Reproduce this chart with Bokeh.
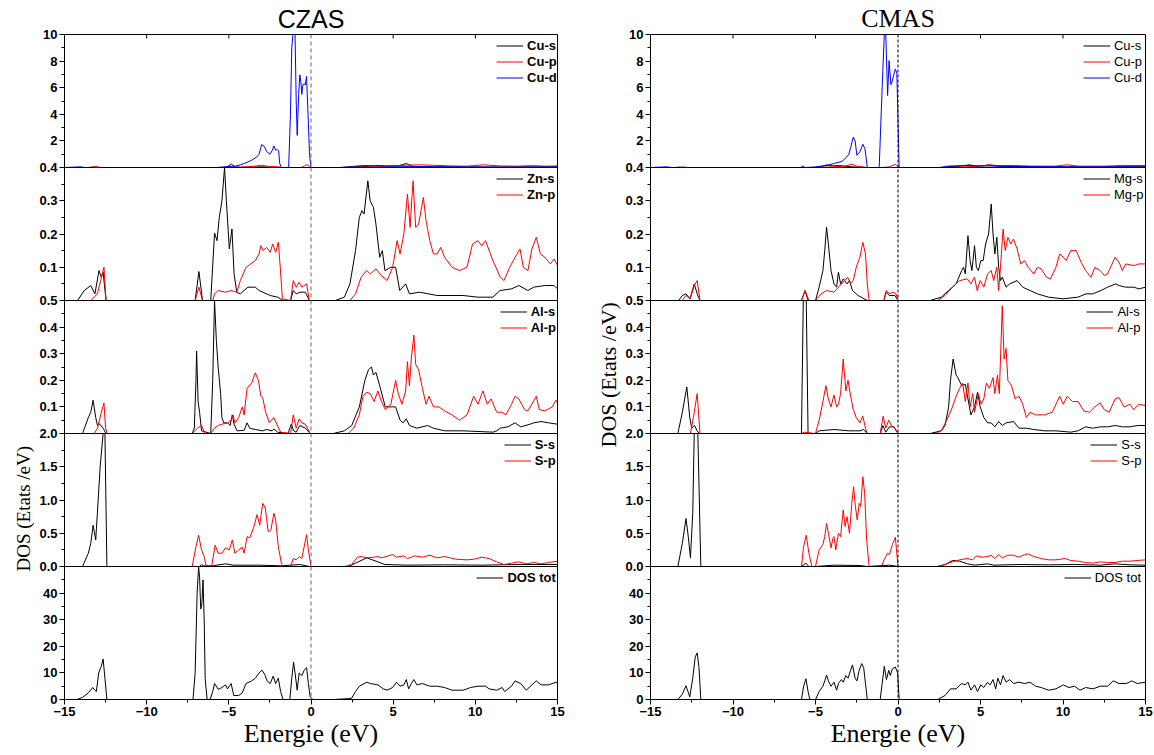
import math
from bokeh.plotting import figure
from bokeh.models import Range1d, FixedTicker, Span, Title, Legend, LegendItem
from bokeh.layouts import row
from bokeh.embed import file_html
from bokeh.resources import INLINE

# ---------------------------------------------------------------- data
# Energy axis (eV)
x_major = [-15, -10, -5, 0, 5, 10, 15]
x_minor = [-12.5, -7.5, -2.5, 2.5, 7.5, 12.5]

# Panel scales, listed from top panel to bottom panel
panel_limits = [10, 0.4, 0.5, 2.0, 50]
panel_major = [[2, 4, 6, 8], [0.1, 0.2, 0.3], [0.1, 0.2, 0.3, 0.4], [0.5, 1.0, 1.5], [10, 20, 30, 40]]
panel_minor = [[1, 3, 5, 7, 9], [0.05, 0.15, 0.25, 0.35], [0.05, 0.15, 0.25, 0.35, 0.45],
               [0.25, 0.75, 1.25, 1.75], [5, 15, 25, 35, 45]]
panel_fmt = ["{:g}", "{:.1f}", "{:.1f}", "{:.1f}", "{:g}"]
edge_labels = ["10", "0.4", "0.5", "2.0", "0.0", "0"]   # panel edges, top to bottom

# ---- CZAS partial DOS, (energy, states/eV)
czas_cu_s = [(-15, 0), (-13.6, 0), (-13.3, 0.03), (-13.0, 0), (-5.4, 0), (-5.1, 0.06), (-4.85, 0.25), (-4.6, 0.05),
             (-4.3, 0.02), (-3.0, 0.05), (-1.8, 0), (1.8, 0), (2.7, 0.05), (3.5, 0.08), (4.1, 0.15), (4.6, 0.1),
             (5.3, 0.12), (5.8, 0.3), (6.2, 0.08), (7.5, 0.05), (9, 0.04), (11, 0.03), (13, 0.04), (15, 0.03)]
czas_cu_p = [(-15, 0), (-13.4, 0), (-13.1, 0.08), (-12.8, 0), (-4.6, 0), (-4.0, 0.04), (-3.4, 0.1), (-3.0, 0.17),
             (-2.6, 0.08), (-2.0, 0.05), (-1.8, 0), (-0.6, 0), (-0.4, 0.12), (-0.27, 0.22), (-0.1, 0.1), (0, 0),
             (2.4, 0), (3.2, 0.04), (4.2, 0.06), (5.0, 0.12), (5.8, 0.18), (6.6, 0.2), (7.4, 0.17), (8.5, 0.12),
             (9.5, 0.1), (10.5, 0.2), (11.5, 0.12), (12.5, 0.1), (13.5, 0.14), (14.3, 0.1), (15, 0.12)]
czas_cu_d = [(-15, 0), (-14, 0.05), (-13.8, 0), (-5.8, 0), (-5.2, 0.05), (-4.6, 0.1), (-4.3, 0.2), (-4.07, 0.3),
             (-3.6, 0.55), (-3.3, 0.8), (-3.16, 1.0), (-3.0, 1.72), (-2.85, 1.6), (-2.7, 1.2), (-2.5, 1.0),
             (-2.35, 1.3), (-2.26, 1.62), (-2.15, 1.3), (-2.05, 1.35), (-1.97, 1.25), (-1.9, 0.3), (-1.8, 0),
             (-1.36, 0), (-1.25, 4.0), (-1.17, 9.0), (-1.1, 10), (-0.97, 10), (-0.9, 5), (-0.84, 2.42),
             (-0.75, 5.5), (-0.68, 6.96), (-0.62, 6.5), (-0.56, 5.5), (-0.5, 6.2), (-0.42, 6.3), (-0.35, 6.2),
             (-0.27, 6.85), (-0.18, 4.0), (-0.09, 1.0), (0, 0), (1.8, 0), (2.7, 0.1), (3.2, 0.15), (4.0, 0.12),
             (5.0, 0.1), (6.0, 0.08), (8, 0.05), (10, 0.04), (12, 0.03), (15, 0.05)]
czas_zn_s = [(-15, 0), (-14.2, 0), (-13.8, 0.03), (-13.4, 0.045), (-13.15, 0.02), (-12.9, 0.09), (-12.76, 0.07),
             (-12.65, 0.085), (-12.47, 0), (-7.05, 0), (-6.82, 0.087), (-6.6, 0), (-6.1, 0), (-5.87, 0.203),
             (-5.72, 0.18), (-5.58, 0.25), (-5.42, 0.3), (-5.26, 0.4), (-5.15, 0.3), (-4.97, 0.155), (-4.81, 0.215),
             (-4.68, 0.08), (-4.52, 0.025), (-4.3, 0.02), (-4.07, 0.03), (-3.84, 0.04), (-3.39, 0.04),
             (-3.16, 0.03), (-2.48, 0.015), (-2.03, 0.01), (-1.7, 0), (-1.24, 0), (-1.08, 0.03), (-0.9, 0.02),
             (-0.68, 0.025), (-0.34, 0.025), (-0.1, 0), (1.47, 0), (2.03, 0.01), (2.37, 0.05), (2.71, 0.15),
             (2.94, 0.25), (3.1, 0.27), (3.23, 0.26), (3.46, 0.36), (3.6, 0.3), (3.8, 0.28), (3.95, 0.23),
             (4.18, 0.13), (4.34, 0.15), (4.5, 0.09), (4.86, 0.1), (5.15, 0.1), (5.4, 0.03), (5.76, 0.05),
             (5.99, 0.02), (6.6, 0.025), (7.68, 0.015), (9.26, 0.015), (10.16, 0.01), (11.07, 0.01), (11.5, 0.03),
             (12.2, 0.035), (12.65, 0.045), (13.2, 0.03), (13.55, 0.04), (14.23, 0.045), (14.8, 0.045), (15, 0.035)]
czas_zn_p = [(-15, 0), (-13.4, 0), (-13.0, 0.02), (-12.8, 0.06), (-12.6, 0.1), (-12.47, 0), (-7.05, 0),
             (-6.82, 0.04), (-6.6, 0), (-5.98, 0), (-5.87, 0.02), (-5.65, 0.03), (-5.2, 0.025), (-4.86, 0.03),
             (-4.52, 0.025), (-4.3, 0.06), (-3.95, 0.1), (-3.73, 0.108), (-3.39, 0.12), (-3.16, 0.14),
             (-3.05, 0.165), (-2.9, 0.15), (-2.7, 0.16), (-2.48, 0.145), (-2.33, 0.17), (-2.15, 0.145),
             (-1.99, 0.175), (-1.87, 0.1), (-1.74, 0.005), (-1.24, 0), (-1.08, 0.06), (-0.9, 0.04), (-0.72, 0.055),
             (-0.56, 0.04), (-0.27, 0.05), (-0.1, 0), (2.37, 0), (2.71, 0.02), (3.05, 0.07), (3.39, 0.09),
             (3.61, 0.08), (3.95, 0.095), (4.29, 0.075), (4.63, 0.06), (4.97, 0.1), (5.24, 0.18), (5.42, 0.14),
             (5.65, 0.2), (5.87, 0.32), (6.03, 0.22), (6.21, 0.36), (6.37, 0.22), (6.55, 0.23), (6.84, 0.31),
             (7.0, 0.24), (7.23, 0.18), (7.45, 0.14), (7.68, 0.14), (7.9, 0.16), (8.13, 0.13), (8.58, 0.1),
             (9.04, 0.09), (9.49, 0.1), (9.83, 0.17), (10.16, 0.18), (10.39, 0.165), (10.62, 0.18), (11.07, 0.12),
             (11.52, 0.07), (11.75, 0.06), (12.09, 0.1), (12.42, 0.13), (12.72, 0.155), (12.92, 0.1), (13.2, 0.09),
             (13.44, 0.155), (13.71, 0.19), (13.96, 0.14), (14.23, 0.13), (14.57, 0.11), (14.8, 0.125), (15, 0.105)]
czas_al_s = [(-15, 0), (-13.9, 0), (-13.55, 0.06), (-13.4, 0.08), (-13.26, 0.125), (-13.1, 0.06), (-12.99, 0.03),
             (-12.88, 0.037), (-12.65, 0.02), (-12.47, 0), (-7.23, 0), (-7.1, 0.02), (-7.0, 0.2), (-6.96, 0.31),
             (-6.87, 0.12), (-6.78, 0.08), (-6.66, 0.01), (-6.1, 0), (-5.98, 0.2), (-5.87, 0.5), (-5.76, 0.35),
             (-5.65, 0.25), (-5.5, 0.15), (-5.42, 0.06), (-5.31, 0.04), (-5.08, 0.04), (-4.92, 0.03), (-4.79, 0.07),
             (-4.68, 0.035), (-4.5, 0.01), (-4.07, 0.012), (-3.89, 0.04), (-3.73, 0.02), (-3.39, 0.015),
             (-2.94, 0.01), (-2.7, 0.015), (-2.37, 0.01), (-2.26, 0.017), (-2.03, 0.005), (-1.4, 0), (-1.2, 0.035),
             (-1.06, 0.01), (-0.9, 0.005), (-0.68, 0.03), (-0.34, 0.02), (-0.05, 0), (1.36, 0), (2.03, 0.01),
             (2.48, 0.03), (2.94, 0.1), (3.28, 0.2), (3.5, 0.24), (3.68, 0.25), (3.8, 0.22), (3.95, 0.23),
             (4.18, 0.18), (4.52, 0.1), (4.86, 0.1), (5.15, 0.1), (5.42, 0.05), (5.6, 0.04), (5.8, 0.055),
             (5.99, 0.03), (6.44, 0.02), (7.1, 0.03), (7.45, 0.02), (8.13, 0.01), (9.26, 0.01), (11.07, 0.005),
             (11.3, 0.01), (11.52, 0.02), (11.97, 0.025), (12.42, 0.04), (12.76, 0.025), (13.33, 0.035),
             (13.55, 0.04), (14.0, 0.045), (14.46, 0.04), (15, 0.035)]
czas_al_p = [(-15, 0), (-13.2, 0), (-12.99, 0.02), (-12.76, 0.08), (-12.6, 0.115), (-12.5, 0.02), (-12.4, 0),
             (-7.23, 0), (-6.9, 0.02), (-6.66, 0.03), (-6.45, 0), (-6.1, 0), (-5.87, 0.02), (-5.65, 0.03),
             (-5.42, 0.035), (-5.08, 0.04), (-4.86, 0.05), (-4.74, 0.07), (-4.63, 0.04), (-4.4, 0.06), (-4.18, 0.1),
             (-4.07, 0.07), (-3.89, 0.17), (-3.61, 0.19), (-3.39, 0.228), (-3.2, 0.2), (-3.05, 0.14), (-2.94, 0.135),
             (-2.76, 0.08), (-2.53, 0.04), (-2.26, 0.06), (-2.08, 0.035), (-1.85, 0.005), (-1.24, 0), (-1.08, 0.07),
             (-0.9, 0.02), (-0.72, 0.055), (-0.56, 0.04), (-0.34, 0.035), (-0.05, 0), (2.26, 0), (2.6, 0.02),
             (2.94, 0.07), (3.16, 0.14), (3.39, 0.155), (3.61, 0.15), (3.84, 0.12), (4.07, 0.16), (4.29, 0.12),
             (4.52, 0.09), (4.86, 0.11), (5.15, 0.2), (5.31, 0.15), (5.53, 0.11), (5.76, 0.16), (5.87, 0.27),
             (5.99, 0.18), (6.1, 0.28), (6.26, 0.37), (6.37, 0.26), (6.55, 0.24), (6.78, 0.17), (7.0, 0.11),
             (7.18, 0.14), (7.45, 0.1), (7.79, 0.1), (8.13, 0.085), (8.58, 0.07), (9.04, 0.05), (9.49, 0.07),
             (9.9, 0.14), (10.16, 0.11), (10.46, 0.16), (10.73, 0.11), (10.96, 0.13), (11.3, 0.08), (11.63, 0.08),
             (11.86, 0.07), (12.2, 0.11), (12.42, 0.14), (12.65, 0.13), (12.99, 0.09), (13.2, 0.085),
             (13.71, 0.14), (13.89, 0.09), (14.23, 0.085), (14.68, 0.1), (14.9, 0.125), (15, 0.115)]
czas_s_s = [(-15, 0), (-13.9, 0), (-13.55, 0.2), (-13.4, 0.35), (-13.26, 0.62), (-13.1, 0.4), (-13.0, 0.8),
            (-12.83, 1.5), (-12.65, 2.0), (-12.54, 2.0), (-12.42, 0), (-6.78, 0), (-6.66, 0.03), (-6.55, 0.01),
            (-6.0, 0.01), (-5.2, 0.04), (-4.75, 0.02), (-3.16, 0.02), (-1.8, 0.01), (-0.68, 0.03), (-0.1, 0),
            (2.26, 0), (2.71, 0.05), (3.39, 0.13), (4.07, 0.07), (4.5, 0.03), (5.87, 0.02), (8.13, 0.025),
            (10.39, 0.02), (12.65, 0.03), (15, 0.03)]
czas_s_p = [(-15, 0), (-7.23, 0), (-7.0, 0.3), (-6.84, 0.47), (-6.66, 0.25), (-6.5, 0.15), (-6.37, 0),
            (-6.05, 0), (-5.83, 0.32), (-5.65, 0.2), (-5.42, 0.2), (-5.2, 0.28), (-4.97, 0.25), (-4.79, 0.4),
            (-4.63, 0.2), (-4.4, 0.25), (-4.18, 0.29), (-4.07, 0.2), (-3.89, 0.45), (-3.73, 0.43), (-3.5, 0.58),
            (-3.28, 0.78), (-3.12, 0.62), (-2.94, 0.95), (-2.78, 0.88), (-2.6, 0.52), (-2.44, 0.55), (-2.26, 0.8),
            (-2.15, 0.7), (-1.99, 0.3), (-1.8, 0.05), (-1.7, 0), (-1.24, 0), (-1.08, 0.12), (-0.9, 0.1),
            (-0.72, 0.15), (-0.56, 0.12), (-0.27, 0.48), (-0.16, 0.25), (0, 0), (2.03, 0), (2.48, 0.03),
            (2.82, 0.14), (3.05, 0.15), (3.39, 0.13), (3.84, 0.14), (4.07, 0.15), (4.29, 0.13), (4.97, 0.18),
            (5.2, 0.14), (5.65, 0.16), (5.87, 0.12), (6.32, 0.16), (6.78, 0.14), (7.23, 0.17), (7.68, 0.13),
            (8.13, 0.15), (8.81, 0.11), (9.49, 0.1), (9.94, 0.11), (10.39, 0.14), (10.84, 0.12), (11.3, 0.07),
            (11.75, 0.03), (12.2, 0.05), (12.65, 0.07), (13.1, 0.04), (13.55, 0.06), (14.0, 0.04), (14.46, 0.06),
            (15, 0.08)]
czas_tot = [(-15, 0), (-14.23, 0), (-13.9, 0.8), (-13.55, 2.5), (-13.28, 4.5), (-13.15, 3.5), (-13.06, 3),
            (-12.92, 10), (-12.76, 12.5), (-12.65, 15.2), (-12.54, 8), (-12.42, 0), (-7.18, 0), (-7.05, 10),
            (-6.93, 40), (-6.84, 50), (-6.78, 46), (-6.71, 34), (-6.64, 36), (-6.57, 45), (-6.5, 30), (-6.44, 8),
            (-6.32, 0), (-6.14, 0), (-5.98, 3), (-5.87, 6), (-5.76, 5), (-5.65, 3.8), (-5.42, 4.5), (-5.2, 5.5),
            (-5.08, 4), (-4.86, 6), (-4.7, 1.5), (-4.4, 1.5), (-4.18, 2.5), (-3.95, 6), (-3.61, 7), (-3.39, 8),
            (-3.16, 10), (-2.98, 11), (-2.82, 9.5), (-2.67, 7), (-2.48, 6), (-2.3, 8.8), (-2.15, 6), (-1.99, 8),
            (-1.85, 3), (-1.7, 0), (-1.29, 0), (-1.17, 8), (-1.06, 14), (-0.97, 10), (-0.84, 3.5), (-0.72, 10),
            (-0.56, 9), (-0.41, 11), (-0.27, 12), (-0.16, 6), (-0.05, 1), (0.11, 0), (1.36, 0), (2.26, 0.3),
            (2.48, 0.5), (2.71, 3), (2.94, 5), (3.39, 6.5), (3.61, 6), (4.07, 5.5), (4.4, 4), (4.63, 3.5),
            (4.97, 4.5), (5.2, 6.5), (5.42, 5), (5.65, 5.5), (5.8, 7.5), (5.94, 4), (6.1, 6), (6.26, 7.5),
            (6.44, 5.5), (6.78, 6), (7.23, 5), (7.68, 5), (8.13, 4.5), (8.58, 3.5), (9.26, 3.5), (9.71, 4.5),
            (10.16, 5), (10.62, 5), (10.84, 4), (11.3, 3.5), (11.63, 4.5), (11.79, 3), (12.2, 5), (12.42, 7),
            (12.76, 6), (13.1, 3.5), (13.44, 5.5), (13.71, 7), (14.0, 5.5), (14.46, 5.5), (14.91, 6.5), (15, 6)]

# ---- CMAS partial DOS, (energy, states/eV)
cmas_cu_s = [(-15, 0), (-13.5, 0), (-13.3, 0.03), (-13.0, 0), (-5.0, 0), (-4.6, 0.1), (-4.3, 0.2), (-4.0, 0.12),
             (-3.6, 0.15), (-3.2, 0.1), (-2.8, 0.05), (-1.9, 0), (2.5, 0), (3.0, 0.05), (3.8, 0.1), (4.3, 0.2),
             (4.8, 0.1), (5.3, 0.15), (5.5, 0.2), (6.0, 0.1), (7, 0.08), (9, 0.05), (11, 0.04), (13, 0.05),
             (15, 0.05)]
cmas_cu_p = [(-15, 0), (-13.2, 0), (-13.0, 0.05), (-12.8, 0), (-5.0, 0), (-4.0, 0.05), (-3.2, 0.1), (-2.8, 0.25),
             (-2.5, 0.1), (-1.9, 0), (-0.9, 0), (-0.5, 0.05), (-0.15, 0.25), (0.05, 0), (3.0, 0), (4.0, 0.05),
             (5.0, 0.1), (5.5, 0.2), (6.0, 0.15), (7.0, 0.15), (8.0, 0.1), (9.5, 0.1), (10.2, 0.2), (11, 0.1),
             (12.5, 0.1), (13.5, 0.15), (15, 0.15)]
cmas_cu_d = [(-15, 0), (-14, 0.05), (-13.7, 0), (-5.9, 0), (-5.8, 0.1), (-5.6, 0), (-5.0, 0.05), (-4.3, 0.15),
             (-3.9, 0.3), (-3.4, 0.45), (-3.1, 0.8), (-2.98, 1.0), (-2.87, 1.5), (-2.71, 2.29), (-2.6, 2.0),
             (-2.49, 0.92), (-2.3, 1.2), (-2.13, 1.75), (-2.0, 1.4), (-1.86, 0), (-1.14, 0), (-0.96, 6.0),
             (-0.83, 10), (-0.74, 10), (-0.63, 5.41), (-0.54, 8.03), (-0.43, 6.23), (-0.35, 6.5), (-0.25, 7.0),
             (-0.16, 7.4), (-0.07, 7.1), (0.07, 0), (2.6, 0), (3.0, 0.1), (4, 0.15), (5, 0.12), (6, 0.1),
             (8, 0.08), (10, 0.05), (12, 0.05), (15, 0.05)]
cmas_mg_s = [(-15, 0), (-13.3, 0), (-13.07, 0.015), (-12.85, 0.02), (-12.6, 0.005), (-12.35, 0.05), (-12.17, 0.02),
             (-12.0, 0), (-5.85, 0), (-5.63, 0.03), (-5.45, 0), (-5.0, 0), (-4.78, 0.04), (-4.55, 0.09),
             (-4.44, 0.15), (-4.33, 0.22), (-4.22, 0.17), (-4.06, 0.09), (-3.88, 0.05), (-3.72, 0.04),
             (-3.61, 0.085), (-3.48, 0.05), (-3.32, 0.065), (-3.09, 0.05), (-2.94, 0.06), (-2.76, 0.03),
             (-2.42, 0.015), (-1.86, 0), (-0.85, 0), (-0.74, 0.025), (-0.52, 0.015), (-0.18, 0.015), (0, 0),
             (1.95, 0), (2.62, 0.01), (3.07, 0.03), (3.52, 0.05), (3.86, 0.09), (3.97, 0.1), (4.08, 0.08),
             (4.24, 0.195), (4.37, 0.12), (4.48, 0.09), (4.64, 0.165), (4.75, 0.1), (4.87, 0.09), (5.02, 0.12),
             (5.16, 0.12), (5.31, 0.17), (5.49, 0.2), (5.65, 0.29), (5.76, 0.2), (5.87, 0.14), (5.99, 0.19),
             (6.1, 0.1), (6.21, 0.06), (6.32, 0.07), (6.55, 0.04), (6.77, 0.05), (7.22, 0.06), (7.56, 0.04),
             (8.0, 0.03), (8.45, 0.02), (9.13, 0.01), (10.0, 0.005), (10.9, 0.01), (11.4, 0.02), (11.8, 0.02),
             (12.3, 0.03), (12.7, 0.04), (13.2, 0.05), (13.4, 0.045), (13.8, 0.04), (14.3, 0.04), (14.6, 0.035),
             (15, 0.04)]
cmas_mg_p = [(-15, 0), (-13.07, 0), (-12.85, 0.015), (-12.6, 0.005), (-12.35, 0.045), (-12.17, 0.06), (-12.0, 0),
             (-5.85, 0), (-5.63, 0.03), (-5.4, 0), (-5.0, 0), (-4.66, 0.02), (-4.33, 0.03), (-3.88, 0.025),
             (-3.43, 0.05), (-3.05, 0.07), (-2.87, 0.05), (-2.71, 0.06), (-2.53, 0.1), (-2.31, 0.13),
             (-2.13, 0.175), (-1.97, 0.14), (-1.86, 0.05), (-1.75, 0), (-0.85, 0), (-0.7, 0.03), (-0.52, 0.02),
             (-0.29, 0.025), (-0.11, 0.02), (0, 0), (2.4, 0), (2.85, 0.015), (3.3, 0.04), (3.74, 0.06),
             (4.2, 0.065), (4.42, 0.05), (4.64, 0.07), (4.8, 0.03), (4.98, 0.06), (5.2, 0.04), (5.43, 0.08),
             (5.65, 0.09), (5.8, 0.06), (5.99, 0.1), (6.1, 0.03), (6.21, 0.1), (6.37, 0.215), (6.5, 0.15),
             (6.66, 0.19), (6.84, 0.17), (7.0, 0.185), (7.22, 0.155), (7.44, 0.11), (7.67, 0.12), (7.89, 0.1),
             (8.23, 0.08), (8.45, 0.1), (8.68, 0.095), (9.0, 0.07), (9.24, 0.065), (9.57, 0.1), (9.8, 0.14),
             (10.02, 0.13), (10.2, 0.12), (10.47, 0.15), (10.8, 0.15), (11.1, 0.115), (11.37, 0.09), (11.7, 0.07),
             (11.93, 0.1), (12.26, 0.09), (12.5, 0.075), (12.7, 0.08), (13.16, 0.13), (13.4, 0.115), (13.6, 0.09),
             (13.8, 0.11), (14.3, 0.105), (14.6, 0.11), (15, 0.11)]
cmas_al_s = [(-15, 0), (-13.34, 0), (-13.07, 0.08), (-12.8, 0.175), (-12.62, 0.06), (-12.5, 0.02), (-12.33, 0.03),
             (-12.17, 0.01), (-12.05, 0), (-5.85, 0), (-5.74, 0.5), (-5.56, 0.5), (-5.45, 0), (-5.0, 0),
             (-4.78, 0.01), (-3.88, 0.015), (-2.98, 0.01), (-2.3, 0.01), (-2.08, 0.015), (-1.86, 0), (-1.08, 0),
             (-0.92, 0.03), (-0.74, 0.005), (-0.52, 0.025), (-0.25, 0.025), (0, 0), (1.95, 0), (2.62, 0.01),
             (2.85, 0.03), (3.07, 0.1), (3.18, 0.2), (3.34, 0.28), (3.52, 0.22), (3.63, 0.21), (3.86, 0.18),
             (4.08, 0.185), (4.24, 0.13), (4.42, 0.07), (4.64, 0.1), (4.82, 0.155), (4.98, 0.1), (5.2, 0.06),
             (5.43, 0.04), (5.65, 0.04), (5.87, 0.025), (6.1, 0.045), (6.32, 0.03), (6.55, 0.04), (7.0, 0.045),
             (7.33, 0.02), (7.78, 0.02), (8.23, 0.015), (8.9, 0.01), (9.57, 0.01), (10.47, 0.005), (10.9, 0.01),
             (11.37, 0.025), (11.8, 0.02), (12.26, 0.025), (12.7, 0.025), (13.16, 0.03), (13.6, 0.025),
             (14.06, 0.025), (14.5, 0.03), (15, 0.03)]
cmas_al_p = [(-15, 0), (-12.58, 0), (-12.4, 0.06), (-12.17, 0.15), (-12.0, 0), (-5.85, 0), (-5.67, 0.005),
             (-5.0, 0), (-4.78, 0.05), (-4.55, 0.12), (-4.37, 0.18), (-4.22, 0.13), (-4.06, 0.1), (-3.88, 0.145),
             (-3.72, 0.1), (-3.61, 0.11), (-3.48, 0.15), (-3.32, 0.28), (-3.16, 0.16), (-3.03, 0.2), (-2.87, 0.14),
             (-2.71, 0.09), (-2.53, 0.06), (-2.31, 0.04), (-2.13, 0.065), (-1.97, 0.02), (-1.86, 0), (-1.08, 0),
             (-0.9, 0.065), (-0.74, 0.02), (-0.56, 0.05), (-0.4, 0.03), (-0.18, 0.02), (0, 0), (2.29, 0),
             (2.62, 0.01), (2.96, 0.05), (3.3, 0.1), (3.52, 0.14), (3.74, 0.17), (3.92, 0.19), (4.08, 0.12),
             (4.24, 0.19), (4.37, 0.1), (4.53, 0.15), (4.64, 0.08), (4.87, 0.15), (5.04, 0.11), (5.2, 0.13),
             (5.36, 0.19), (5.54, 0.17), (5.76, 0.21), (5.87, 0.15), (6.03, 0.22), (6.14, 0.15), (6.32, 0.48),
             (6.43, 0.28), (6.55, 0.32), (6.66, 0.2), (6.88, 0.18), (7.1, 0.13), (7.33, 0.14), (7.56, 0.11),
             (7.78, 0.06), (8.0, 0.08), (8.34, 0.07), (8.9, 0.07), (9.35, 0.08), (9.8, 0.14), (10.02, 0.11),
             (10.25, 0.14), (10.58, 0.12), (10.92, 0.12), (11.26, 0.085), (11.6, 0.08), (11.93, 0.1),
             (12.26, 0.115), (12.5, 0.09), (12.8, 0.08), (13.16, 0.13), (13.4, 0.135), (13.7, 0.1), (14.06, 0.11),
             (14.28, 0.09), (14.6, 0.11), (15, 0.105)]
cmas_s_s = [(-15, 0), (-13.34, 0), (-13.07, 0.35), (-12.85, 0.72), (-12.71, 0.45), (-12.58, 0.13), (-12.44, 0.8),
            (-12.35, 2.0), (-12.13, 2.0), (-11.95, 0), (-5.85, 0), (-5.58, 0.05), (-5.4, 0), (-5.0, 0),
            (-3.88, 0.02), (-2.31, 0.015), (-1.86, 0), (-0.52, 0.02), (0, 0), (2.4, 0), (2.85, 0.03), (3.3, 0.09),
            (3.74, 0.08), (4.2, 0.04), (4.64, 0.02), (5.43, 0.04), (5.8, 0.02), (7.33, 0.03), (9.1, 0.025),
            (10.7, 0.03), (12.26, 0.02), (13.16, 0.04), (14.06, 0.025), (15, 0.02)]
cmas_s_p = [(-15, 0), (-5.85, 0), (-5.72, 0.3), (-5.56, 0.47), (-5.4, 0.2), (-5.22, 0), (-5.0, 0), (-4.78, 0.25),
            (-4.55, 0.33), (-4.44, 0.45), (-4.33, 0.65), (-4.22, 0.5), (-4.06, 0.28), (-3.95, 0.42), (-3.88, 0.45),
            (-3.77, 0.25), (-3.61, 0.5), (-3.48, 0.45), (-3.32, 0.85), (-3.2, 0.6), (-3.09, 0.75), (-2.94, 0.5),
            (-2.8, 0.95), (-2.69, 1.2), (-2.58, 0.9), (-2.47, 0.7), (-2.35, 0.95), (-2.26, 0.9), (-2.13, 1.35),
            (-2.02, 1.1), (-1.9, 0.4), (-1.75, 0), (-1.0, 0), (-0.85, 0.1), (-0.63, 0.2), (-0.52, 0.18),
            (-0.34, 0.33), (-0.16, 0.44), (0, 0), (2.4, 0), (2.85, 0.03), (3.3, 0.07), (3.74, 0.1), (4.2, 0.12),
            (4.53, 0.1), (4.75, 0.16), (5.09, 0.14), (5.43, 0.15), (5.65, 0.17), (5.87, 0.12), (6.1, 0.18),
            (6.32, 0.13), (6.66, 0.17), (7.0, 0.17), (7.33, 0.14), (7.67, 0.18), (7.89, 0.19), (8.23, 0.15),
            (8.68, 0.12), (9.13, 0.1), (9.57, 0.1), (10.13, 0.12), (10.47, 0.09), (10.92, 0.08), (11.37, 0.06),
            (11.82, 0.05), (12.26, 0.07), (12.7, 0.06), (13.16, 0.06), (13.6, 0.08), (14.06, 0.08), (14.5, 0.09),
            (15, 0.1)]
cmas_tot = [(-15, 0), (-13.34, 0), (-13.07, 2), (-12.85, 5.2), (-12.62, 1), (-12.44, 8), (-12.29, 16),
            (-12.17, 17.5), (-12.06, 12), (-11.95, 0), (-5.85, 0), (-5.72, 5), (-5.58, 7.8), (-5.45, 3),
            (-5.34, 0), (-5.0, 0), (-4.78, 3), (-4.55, 5), (-4.44, 7), (-4.33, 9.2), (-4.22, 7), (-4.06, 5),
            (-3.88, 6.5), (-3.72, 3.5), (-3.61, 6), (-3.43, 7.5), (-3.32, 6.5), (-3.16, 9), (-3.03, 8), (-2.87, 11),
            (-2.76, 13), (-2.6, 8), (-2.49, 7), (-2.35, 11), (-2.2, 13.5), (-2.08, 12), (-1.97, 6), (-1.86, 0),
            (-1.08, 0), (-0.96, 6), (-0.83, 12.5), (-0.7, 7.5), (-0.56, 11), (-0.47, 9), (-0.34, 11.5),
            (-0.16, 12.2), (-0.02, 10), (0.07, 0), (2.4, 0), (2.85, 1.5), (3.18, 4), (3.52, 4), (3.86, 6),
            (4.08, 5.5), (4.24, 6.5), (4.42, 3.5), (4.64, 5.5), (4.82, 3), (5.02, 5.5), (5.2, 4.5), (5.43, 6.5),
            (5.58, 5.5), (5.76, 7.5), (5.92, 4), (6.05, 8), (6.21, 5.5), (6.37, 9), (6.55, 6.5), (6.77, 7.5),
            (7.0, 6), (7.33, 6.5), (7.67, 6), (8.0, 6.5), (8.34, 5), (8.68, 4.5), (9.13, 3.5), (9.57, 4),
            (10.02, 5.5), (10.36, 4.5), (10.7, 5), (11.03, 3.5), (11.37, 4.5), (11.82, 4), (12.26, 5), (12.7, 5),
            (13.05, 7), (13.4, 6), (13.83, 6), (14.17, 7), (14.5, 6), (15, 6.5)]

BLACK, RED, BLUE = "#000000", "#ff0000", "#0000ff"

czas_panels = [
    [("Cu-s", BLACK, czas_cu_s), ("Cu-p", RED, czas_cu_p), ("Cu-d", BLUE, czas_cu_d)],
    [("Zn-s", BLACK, czas_zn_s), ("Zn-p", RED, czas_zn_p)],
    [("Al-s", BLACK, czas_al_s), ("Al-p", RED, czas_al_p)],
    [("S-s", BLACK, czas_s_s), ("S-p", RED, czas_s_p)],
    [("DOS tot", BLACK, czas_tot)],
]
cmas_panels = [
    [("Cu-s", BLACK, cmas_cu_s), ("Cu-p", RED, cmas_cu_p), ("Cu-d", BLUE, cmas_cu_d)],
    [("Mg-s", BLACK, cmas_mg_s), ("Mg-p", RED, cmas_mg_p)],
    [("Al-s", BLACK, cmas_al_s), ("Al-p", RED, cmas_al_p)],
    [("S-s", BLACK, cmas_s_s), ("S-p", RED, cmas_s_p)],
    [("DOS tot", BLACK, cmas_tot)],
]

# ---------------------------------------------------------------- drawing
FIG_W, FIG_H = 577, 755
TOP, BOTTOM = 34, 56
N = len(panel_limits)
SANS = "Liberation Sans"
SERIF = "Liberation Serif"
FS = 13                       # tick / legend font size, px
ROW_H, ROW_GAP = 15, 1        # legend row geometry


def y_axis_ticks():
    """Stacked-panel tick positions on the 0..N primary scale and their labels."""
    majors, minors, labels = [], [], {}
    for i, ymax in enumerate(panel_limits):
        base = N - 1 - i
        for v in panel_major[i]:
            pos = round(base + v / ymax, 6)
            majors.append(pos)
            labels[pos] = panel_fmt[i].format(v)
        for v in panel_minor[i]:
            minors.append(round(base + v / ymax, 6))
    for j, txt in enumerate(edge_labels):
        pos = float(N - j)
        majors.append(pos)
        labels[pos] = txt
    return sorted(majors), sorted(minors), labels


def text_width(s, size, bold):
    """Rough Arial advance width, used to right-align the panel legends."""
    w = 0.0
    for c in s:
        w += 0.3 if c in " -ilt" else 0.72 if c in "CDOAMSZ" else 0.57
    return w * size * (1.03 if bold else 1.0)


def build(title, title_font, title_size, panels, legend_bold, left, right, dash_color, dash,
          ylabel_size, ylabel_shift, ylabel_standoff, legend_pad):
    p = figure(width=FIG_W, height=FIG_H, x_range=Range1d(-15, 15), y_range=Range1d(0, N),
               output_backend="svg", toolbar_location=None,
               min_border_left=left, min_border_right=right,
               min_border_top=TOP, min_border_bottom=BOTTOM)
    p.title = Title(text=title, align="center", text_font=title_font, text_font_size=f"{title_size}px",
                    text_font_style="normal", text_color="black", standoff=3)
    p.xgrid.visible = False
    p.ygrid.visible = False
    p.outline_line_color = "black"
    p.outline_line_width = 1
    p.outline_line_alpha = 1
    p.background_fill_color = "white"
    p.border_fill_color = "white"

    xa = p.xaxis[0]
    xa.ticker = FixedTicker(ticks=x_major, minor_ticks=x_minor)
    xa.axis_label = "Energie (eV)"
    xa.axis_label_text_font = SERIF
    xa.axis_label_text_font_size = "26px"
    xa.axis_label_text_font_style = "normal"
    xa.axis_label_text_color = "black"
    xa.axis_label_standoff = 0
    ya = p.yaxis[0]
    majors, minors, labels = y_axis_ticks()
    ya.ticker = FixedTicker(ticks=majors, minor_ticks=minors)
    ya.major_label_overrides = labels
    for ax in (xa, ya):
        ax.axis_line_color = "black"
        ax.major_tick_out = 5
        ax.major_tick_in = 0
        ax.minor_tick_out = 3
        ax.minor_tick_in = 0
        ax.major_label_text_font = SANS
        ax.major_label_text_font_style = "bold"
        ax.major_label_text_font_size = f"{FS}px"
        ax.major_label_text_color = "black"
        ax.major_label_standoff = 2

    # vertical axis title; "left" alignment starts it from the bottom of the frame
    p.add_layout(Title(text="DOS (Etats /eV)", align="left", offset=ylabel_shift, text_font=SERIF,
                       text_font_size=f"{ylabel_size}px", text_font_style="normal", text_color="black",
                       standoff=ylabel_standoff), "left")

    # inward ticks mirrored on the top edge of the frame
    top_ticks = [t for t in x_major if t not in (x_major[0], x_major[-1], 0)]
    p.ray(x=top_ticks, y=[N] * len(top_ticks), length=4, length_units="screen", angle=-math.pi / 2,
          line_color="black", line_width=1)

    frame_w = FIG_W - left - right
    frame_h = FIG_H - TOP - BOTTOM
    glyph_w, standoff = 27, 4
    for i, series in enumerate(panels):
        ymax = panel_limits[i]
        base = N - 1 - i
        name = f"panel{i}"
        p.extra_y_ranges[name] = Range1d(start=-base * ymax, end=(N - base) * ymax)
        items = []
        for label, color, pts in series:
            xs = [e for e, _ in pts]
            ys = [d for _, d in pts]
            r = p.line(xs, ys, y_range_name=name, line_color=color, line_width=1)
            items.append(LegendItem(label=label, renderers=[r]))
        n = len(series)
        legend_h = n * ROW_H + (n - 1) * ROW_GAP
        legend_w = glyph_w + standoff + max(text_width(s[0], FS, legend_bold) for s in series)
        loc = (frame_w - legend_pad - legend_w, (base + 1) * frame_h / N - 3.5 - legend_h)
        legend = Legend(items=items, location=loc, orientation="vertical", padding=0, margin=0,
                        spacing=ROW_GAP, glyph_width=glyph_w, glyph_height=ROW_H, label_height=ROW_H,
                        label_standoff=standoff, label_text_font=SANS, label_text_font_size=f"{FS}px",
                        label_text_font_style="bold" if legend_bold else "normal",
                        label_text_color="black", border_line_alpha=0, background_fill_alpha=0)
        p.add_layout(legend, "center")
        if i > 0:
            p.add_layout(Span(location=base + 1, dimension="width", line_color="black", line_width=1))

    p.add_layout(Span(location=0, dimension="height", line_color=dash_color, line_width=1, line_dash=dash))
    return p


left_fig = build("CZAS", SANS, 25, czas_panels, True, 64, 20, "#666666", "4 3", 19, 128, 6, 1)
right_fig = build("CMAS", SERIF, 26, cmas_panels, False, 73, 9, "#000000", "3 2", 22, 252, 4, 3)

layout = row(left_fig, right_fig, spacing=0)
open("out.html", "w").write(file_html(layout, INLINE))
